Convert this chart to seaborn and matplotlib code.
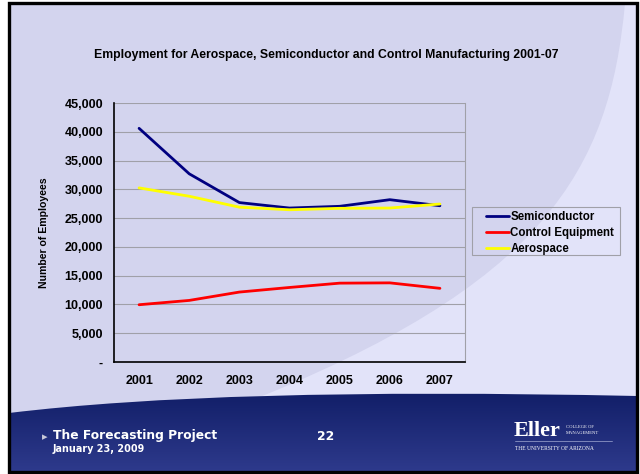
import numpy as np
import pandas as pd
import matplotlib
matplotlib.use("Agg")
import matplotlib.pyplot as plt
import seaborn as sns
from matplotlib.path import Path
from matplotlib.patches import PathPatch, Rectangle
from matplotlib.lines import Line2D
from matplotlib.ticker import FuncFormatter

# data
years = [2001, 2002, 2003, 2004, 2005, 2006, 2007]
semiconductor = [40600, 32700, 27700, 26750, 27050, 28200, 27150]
control_equipment = [9950, 10700, 12150, 12950, 13700, 13750, 12800]
aerospace = [30250, 28800, 26900, 26450, 26700, 26750, 27450]
series_names = ["Semiconductor", "Control Equipment", "Aerospace"]
series_colors = ["#000080", "#FF0000", "#FFFF00"]

df = pd.DataFrame({
    "year": years * 3,
    "employees": semiconductor + control_equipment + aerospace,
    "series": [s for s in series_names for _ in years],
})

sns.set_style("white")
plt.rcParams["font.family"] = ["Liberation Sans", "DejaVu Sans"]
plt.rcParams["text.color"] = "black"
plt.rcParams["axes.labelcolor"] = "black"
plt.rcParams["xtick.color"] = "black"
plt.rcParams["ytick.color"] = "black"

W, H = 640, 474
fig = plt.figure(figsize=(6.4, 4.74), dpi=100, facecolor="white")

# slide background drawn in pixel coords
bg = fig.add_axes([0, 0, 1, 1], zorder=0)
bg.set_xlim(0, W)
bg.set_ylim(H, 0)
bg.axis("off")

bg.add_patch(Rectangle((9, 3), 628, 469, facecolor="#D3D4EE", edgecolor="none", zorder=1))
# lighter swoosh on the right
swoosh = Path([(625, 3), (610, 170), (545, 285), (240, 405), (637, 405), (637, 3), (625, 3)],
              [Path.MOVETO, Path.CURVE4, Path.CURVE4, Path.CURVE4, Path.LINETO, Path.LINETO, Path.CLOSEPOLY])
bg.add_patch(PathPatch(swoosh, facecolor="#E2E3F9", edgecolor="none", zorder=2))

# navy footer band with curved top
band = Path([(9, 413), (150, 396), (350, 390), (637, 396), (637, 472), (9, 472), (9, 413)],
            [Path.MOVETO, Path.CURVE4, Path.CURVE4, Path.CURVE4, Path.LINETO, Path.LINETO, Path.CLOSEPOLY])
band_patch = PathPatch(band, facecolor="none", edgecolor="none", zorder=3)
bg.add_patch(band_patch)
grad = np.linspace(0, 1, 100).reshape(-1, 1)
cmap = matplotlib.colors.LinearSegmentedColormap.from_list("navy", ["#101D66", "#2E3A8C"])
im = bg.imshow(grad, extent=(9, 637, 472, 388), cmap=cmap, aspect="auto", origin="upper", zorder=3)
im.set_clip_path(band_patch)
bg.set_xlim(0, W)
bg.set_ylim(H, 0)

bg.add_patch(Rectangle((9, 3), 628, 469, facecolor="none", edgecolor="black", linewidth=2.4, zorder=5))

# footer text
bg.text(42, 437, "\u25B8", color="#C8C8D8", fontsize=8, va="center", ha="left", family="DejaVu Sans", zorder=6)
bg.text(53, 436, "The Forecasting Project", color="white", fontsize=8.8, fontweight="bold",
        va="center", ha="left", family="DejaVu Sans", zorder=6)
bg.text(53, 449, "January 23, 2009", color="white", fontsize=6.9, fontweight="bold",
        va="center", ha="left", family="DejaVu Sans", zorder=6)
bg.text(326, 436, "22", color="white", fontsize=8.8, fontweight="bold", va="center", ha="center",
        family="DejaVu Sans", zorder=6)
bg.text(514, 431, "Eller", color="white", fontsize=16, fontweight="bold", va="center", ha="left",
        family="Liberation Serif", zorder=6)
bg.text(566, 427, "COLLEGE OF", color="white", fontsize=3.3, va="center", ha="left", family="Liberation Serif", zorder=6)
bg.text(566, 433, "MANAGEMENT", color="white", fontsize=3.3, va="center", ha="left", family="Liberation Serif", zorder=6)
bg.plot([515, 612], [441, 441], color="#8C94C4", linewidth=0.6, zorder=6)
bg.text(515, 449, "THE UNIVERSITY OF ARIZONA", color="white", fontsize=4, va="center", ha="left",
        family="Liberation Serif", zorder=6)

# legend box drawn separately (wide horizontal padding)
bg.add_patch(Rectangle((472, 207), 148, 48, facecolor="none", edgecolor="#A0A0A8", linewidth=0.8, zorder=6))

# main chart
ax = fig.add_axes([114 / W, 1 - 362 / H, 351 / W, 259 / H], zorder=2)
ax.patch.set_alpha(0)
sns.lineplot(data=df, x="year", y="employees", hue="series", hue_order=series_names,
             palette=series_colors, linewidth=2, ax=ax, legend=False)

ax.set_xlim(2000.5, 2007.5)
ax.set_ylim(0, 45000)
ax.set_xticks(years)
ax.set_xticks(np.arange(2000.5, 2008, 1), minor=True)
ax.tick_params(axis="x", which="major", length=0, pad=9)
ax.tick_params(axis="x", which="minor", length=4, direction="out", color="#808080", width=0.8)
ax.set_yticks(np.arange(0, 45001, 5000))
ax.yaxis.set_major_formatter(FuncFormatter(lambda v, p: "-" if v == 0 else f"{int(v):,}"))
ax.tick_params(axis="y", length=0, pad=8)
for lab in ax.get_xticklabels() + ax.get_yticklabels():
    lab.set_fontweight("bold")
    lab.set_fontsize(9)
ax.grid(axis="y", color="#A0A0A8", linewidth=0.8)
ax.set_axisbelow(True)
ax.spines["left"].set_color("black")
ax.spines["bottom"].set_color("black")
ax.spines["left"].set_linewidth(1.2)
ax.spines["bottom"].set_linewidth(1.2)
ax.spines["right"].set_color("#A0A0A8")
ax.spines["top"].set_visible(False)
ax.set_xlabel("")
ax.set_ylabel("Number of Employees", fontsize=7.6, fontweight="bold", labelpad=11)

fig.text(326 / W, 1 - 55 / H, "Employment for Aerospace, Semiconductor and Control Manufacturing 2001-07",
         ha="center", va="center", fontsize=8.8, fontweight="bold")

handles = [Line2D([], [], color=c, linewidth=2) for c in series_colors]
leg = ax.legend(handles, series_names, loc="upper left", bbox_to_anchor=(482 / W, 1 - 207 / H),
                bbox_transform=fig.transFigure, frameon=False,
                prop={"weight": "bold", "size": 8.3}, handlelength=2.0, handletextpad=0.1,
                labelspacing=0.36, borderpad=0.35, borderaxespad=0)

fig.savefig("out.png", dpi=100, facecolor="white")
